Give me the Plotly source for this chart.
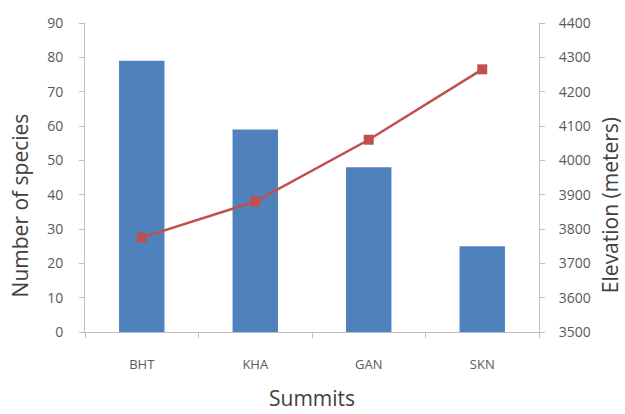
import plotly.graph_objects as go

summits = ["BHT", "KHA", "GAN", "SKN"]
species = [79, 59, 48, 25]
elevation = [3775, 3880, 4060, 4265]

font_family = "Open Sans, Noto Sans, sans-serif"
tick_color = "#595959"
title_color = "#404040"
axis_color = "#BFBFBF"

fig = go.Figure()
fig.add_trace(go.Bar(
    x=summits, y=species, name="Number of species",
    marker=dict(color="#4F81BD", line=dict(width=0)),
    yaxis="y",
))
fig.add_trace(go.Scatter(
    x=summits, y=elevation, name="Elevation",
    mode="lines+markers",
    line=dict(color="#C0504D", width=2.5),
    marker=dict(symbol="square", size=10, color="#C0504D"),
    yaxis="y2",
))

# Axis titles placed as annotations so the plot area keeps its size
title_font = dict(family=font_family, size=21, color=title_color)
fig.add_annotation(
    text="Number of species", textangle=-90,
    xref="paper", yref="paper", x=-0.143, y=0.41,
    xanchor="center", yanchor="middle", showarrow=False, font=title_font,
)
fig.add_annotation(
    text="Elevation (meters)", textangle=-90,
    xref="paper", yref="paper", x=1.156, y=0.41,
    xanchor="center", yanchor="middle", showarrow=False, font=title_font,
)
fig.add_annotation(
    text="Summits",
    xref="paper", yref="paper", x=0.5, y=-0.215,
    xanchor="center", yanchor="middle", showarrow=False, font=title_font,
)

fig.update_layout(
    width=625, height=414,
    margin=dict(l=85, r=86, t=23, b=82, autoexpand=False),
    paper_bgcolor="white", plot_bgcolor="white",
    showlegend=False,
    bargap=0.6,
    font=dict(family=font_family, color=tick_color),
    xaxis=dict(
        showline=True, linecolor=axis_color, linewidth=1,
        ticks="outside", ticklen=5, tickcolor=axis_color,
        tickson="boundaries",
        tickfont=dict(size=13, color=tick_color),
        ticklabelstandoff=20,
        showgrid=False, automargin=False,
    ),
    yaxis=dict(
        range=[0, 90], dtick=10,
        showline=True, linecolor=axis_color, linewidth=1,
        ticks="outside", ticklen=5, tickcolor=axis_color,
        tickfont=dict(size=14, color=tick_color),
        ticklabelstandoff=13,
        showgrid=False, zeroline=False, automargin=False,
    ),
    yaxis2=dict(
        range=[3500, 4400], dtick=100,
        overlaying="y", side="right",
        showline=True, linecolor=axis_color, linewidth=1,
        ticks="outside", ticklen=5, tickcolor=axis_color,
        tickfont=dict(size=14, color=tick_color),
        ticklabelstandoff=11,
        showgrid=False, zeroline=False, automargin=False,
    ),
)

fig.write_html("out.html")
